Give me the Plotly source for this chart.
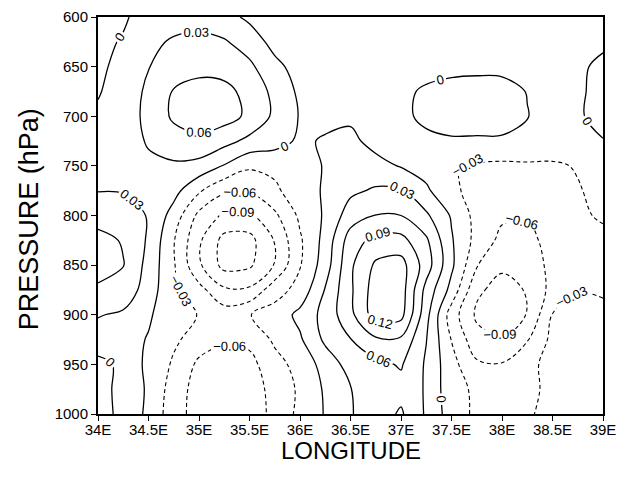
import plotly.graph_objects as go

# Grid coordinates
longitude = [34.0, 34.25, 34.5, 34.75, 35.0, 35.25, 35.5, 35.75, 36.0, 36.25, 36.5,
             36.75, 37.0, 37.25, 37.5, 37.75, 38.0, 38.25, 38.5, 38.75, 39.0]
pressure = [600, 625, 650, 675, 700, 725, 750, 775, 800, 825, 850, 875, 900, 925, 950, 975, 1000]

# Field values, one row per pressure level
row_600 = [-0.010, -0.003, 0.010, 0.016, 0.018, 0.010, -0.006, -0.012, -0.015, -0.015, -0.015,
           -0.015, -0.012, -0.010, -0.008, -0.008, -0.008, -0.010, -0.012, -0.012, -0.008]
row_625 = [-0.006, 0.002, 0.022, 0.034, 0.038, 0.033, 0.016, -0.010, -0.015, -0.018, -0.018,
           -0.017, -0.014, -0.012, -0.010, -0.009, -0.009, -0.010, -0.010, -0.010, -0.004]
row_650 = [-0.004, 0.006, 0.029, 0.046, 0.050, 0.048, 0.036, 0.008, -0.012, -0.018, -0.020,
           -0.018, -0.012, -0.010, -0.008, -0.007, -0.007, -0.008, -0.008, -0.004, 0.005]
row_675 = [-0.002, 0.012, 0.036, 0.062, 0.072, 0.069, 0.050, 0.022, -0.006, -0.016, -0.020,
           -0.016, -0.006, 0.004, 0.010, 0.012, 0.010, -0.001, -0.008, -0.003, 0.006]
row_700 = [0.004, 0.022, 0.034, 0.066, 0.075, 0.072, 0.054, 0.024, -0.002, -0.008, -0.005,
           -0.008, -0.005, 0.005, 0.012, 0.014, 0.013, 0.001, -0.010, -0.003, 0.008]
row_725 = [0.008, 0.020, 0.032, 0.045, 0.053, 0.040, 0.022, 0.012, -0.005, 0.003, 0.007,
           -0.010, -0.012, -0.005, -0.003, -0.004, -0.004, -0.008, -0.012, -0.008, -0.001]
row_750 = [0.010, 0.020, 0.026, 0.026, 0.020, -0.002, -0.025, -0.022, -0.012, 0.002, 0.012,
           0.010, -0.002, -0.012, -0.028, -0.034, -0.036, -0.034, -0.034, -0.028, -0.020]
row_775 = [0.029, 0.028, 0.022, 0.010, -0.026, -0.055, -0.057, -0.036, -0.012, 0.003, 0.024,
           0.034, 0.033, 0.005, -0.024, -0.040, -0.045, -0.045, -0.042, -0.032, -0.022]
row_800 = [0.050, 0.045, 0.028, -0.012, -0.068, -0.095, -0.096, -0.066, -0.024, 0.004, 0.045,
           0.061, 0.060, 0.035, -0.003, -0.040, -0.055, -0.058, -0.050, -0.034, -0.027]
row_825 = [0.068, 0.058, 0.026, -0.028, -0.085, -0.130, -0.130, -0.088, -0.034, 0.010, 0.075,
           0.100, 0.100, 0.065, 0.003, -0.040, -0.068, -0.068, -0.050, -0.042, -0.036]
row_850 = [0.070, 0.061, 0.020, -0.027, -0.085, -0.130, -0.125, -0.088, -0.032, 0.015, 0.085,
           0.125, 0.132, 0.075, 0.006, -0.058, -0.085, -0.080, -0.050, -0.045, -0.040]
row_875 = [0.056, 0.050, 0.015, -0.025, -0.050, -0.085, -0.085, -0.042, -0.020, 0.032, 0.085,
           0.135, 0.135, 0.050, -0.010, -0.085, -0.100, -0.088, -0.050, -0.031, -0.033]
row_900 = [0.032, 0.025, 0.004, -0.020, -0.031, -0.045, -0.031, -0.018, 0.008, 0.040, 0.082,
           0.135, 0.130, 0.040, -0.045, -0.095, -0.105, -0.089, -0.029, -0.022, -0.024]
row_925 = [0.016, 0.012, -0.002, -0.024, -0.045, -0.057, -0.052, -0.025, -0.004, 0.036, 0.059,
           0.085, 0.085, 0.031, -0.031, -0.080, -0.088, -0.062, -0.022, -0.015, -0.014]
row_950 = [-0.008, 0.006, -0.002, -0.035, -0.066, -0.070, -0.070, -0.040, -0.020, 0.012, 0.042,
           0.052, 0.063, 0.026, -0.020, -0.055, -0.058, -0.040, -0.018, -0.012, -0.010]
row_975 = [-0.012, 0.010, -0.002, -0.045, -0.072, -0.078, -0.075, -0.050, -0.025, 0.004, 0.029,
           0.045, 0.050, 0.027, -0.020, -0.035, -0.045, -0.038, -0.022, -0.012, -0.008]
row_1000 = [-0.015, 0.010, -0.003, -0.050, -0.070, -0.078, -0.076, -0.052, -0.022, 0.002, 0.028,
            0.045, 0.064, 0.026, -0.015, -0.036, -0.042, -0.034, -0.020, -0.012, -0.008]

field = [row_600, row_625, row_650, row_675, row_700, row_725, row_750, row_775, row_800,
         row_825, row_850, row_875, row_900, row_925, row_950, row_975, row_1000]

# Contour levels
neg_levels = dict(start=-0.12, end=-0.03, size=0.03)
pos_levels = dict(start=0.0, end=0.12, size=0.03)

# Axis ticks
x_tickvals = [34, 34.5, 35, 35.5, 36, 36.5, 37, 37.5, 38, 38.5, 39]
x_ticktext = ["34E", "34.5E", "35E", "35.5E", "36E", "36.5E", "37E", "37.5E", "38E", "38.5E", "39E"]
y_tickvals = [600, 650, 700, 750, 800, 850, 900, 950, 1000]
y_ticktext = ["600", "650", "700", "750", "800", "850", "900", "950", "1000"]

FONT = "Liberation Sans, Arial, sans-serif"
label_font = dict(size=13, color="black", family=FONT)

fig = go.Figure()
fig.add_trace(go.Contour(
    x=longitude, y=pressure, z=field, autocontour=False,
    contours=dict(**neg_levels, coloring="none", showlabels=True,
                  labelfont=label_font, labelformat=".2~f"),
    line=dict(color="black", width=1.1, dash="4px,3px", smoothing=1.0),
    showscale=False, hoverinfo="skip"))
fig.add_trace(go.Contour(
    x=longitude, y=pressure, z=field, autocontour=False,
    contours=dict(**pos_levels, coloring="none", showlabels=True,
                  labelfont=label_font, labelformat=".2~f"),
    line=dict(color="black", width=1.3, smoothing=1.0),
    showscale=False, hoverinfo="skip"))

fig.update_layout(
    template="none",
    width=622, height=478,
    margin=dict(l=98, r=19, t=17, b=64, autoexpand=False),
    paper_bgcolor="white", plot_bgcolor="white",
    showlegend=False,
    xaxis=dict(range=[34, 39], tickvals=x_tickvals, ticktext=x_ticktext,
               ticks="outside", ticklen=5, tickwidth=1, tickcolor="black",
               showline=True, linewidth=2, linecolor="black", mirror=True,
               showgrid=False, zeroline=False, automargin=False,
               ticklabelstandoff=-4,
               tickfont=dict(family=FONT, size=15, color="black")),
    yaxis=dict(range=[1000, 600], tickvals=y_tickvals, ticktext=y_ticktext,
               ticks="outside", ticklen=5, tickwidth=1, tickcolor="black",
               showline=True, linewidth=2, linecolor="black", mirror=True,
               showgrid=False, zeroline=False, automargin=False,
               tickfont=dict(family=FONT, size=15, color="black")),
    annotations=[
        dict(text="LONGITUDE", xref="paper", yref="paper", x=0.5, y=-0.093,
             xanchor="center", yanchor="middle", showarrow=False,
             font=dict(family=FONT, size=24, color="black")),
        dict(text="PRESSURE (hPa)", xref="paper", yref="paper", x=-0.135, y=0.49,
             xanchor="center", yanchor="middle", showarrow=False, textangle=-90,
             font=dict(family=FONT, size=27, color="black")),
    ],
)

fig.write_html("out.html")
